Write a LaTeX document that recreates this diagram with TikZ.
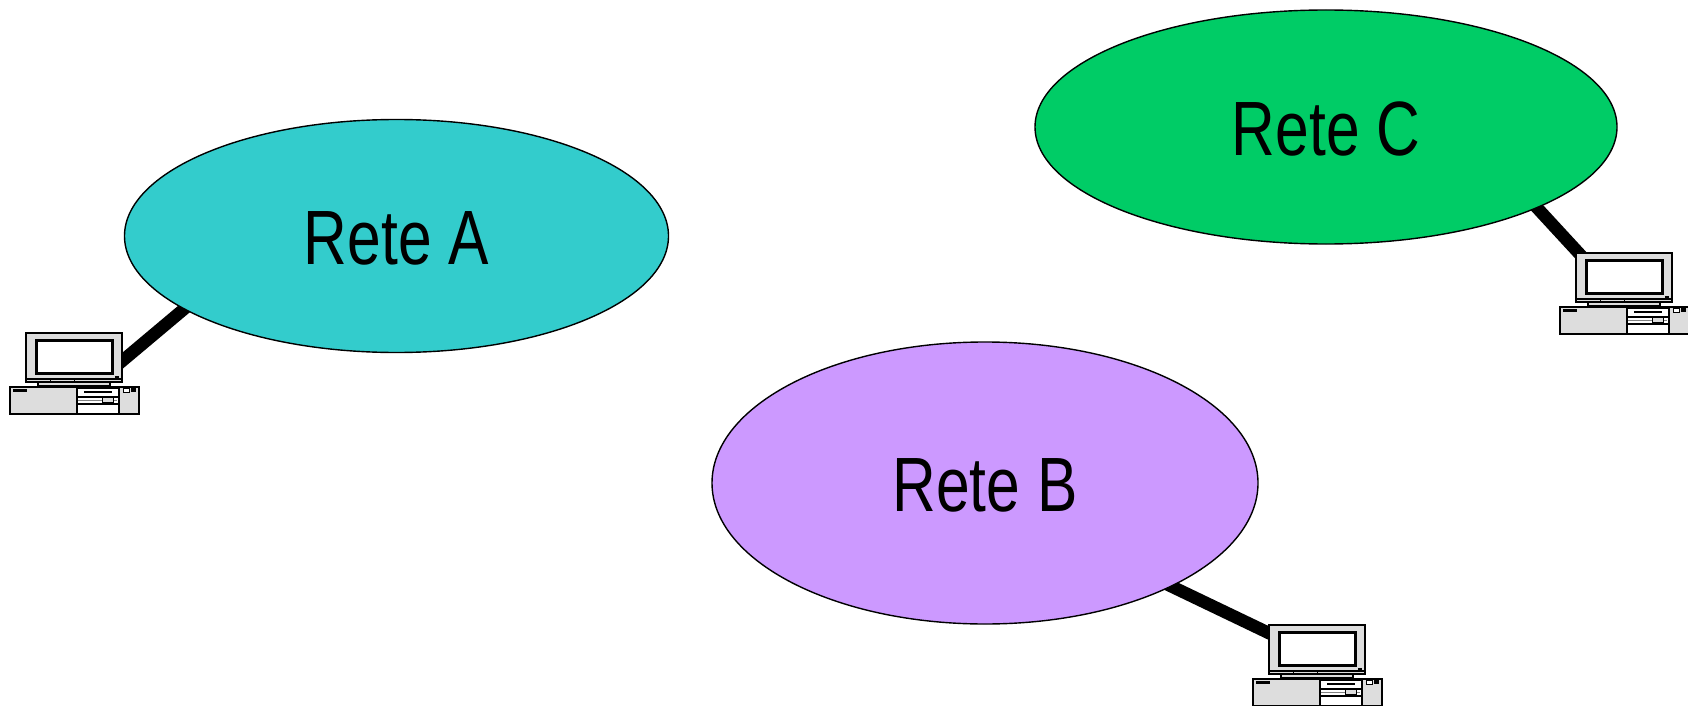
\documentclass[tikz,border=0pt]{standalone}
\usepackage{fontspec}
\setmainfont{Liberation Sans}[FakeStretch=0.786]
\usetikzlibrary{shapes.geometric,backgrounds}
\definecolor{reteacolor}{HTML}{33CCCC}
\definecolor{retebcolor}{HTML}{CC99FF}
\definecolor{retecolor}{HTML}{00CC66}
\definecolor{pcgray}{HTML}{DDDDDD}
\tikzset{
  rete/.style={draw=black, line width=1.4pt, ellipse, inner sep=0pt, text height=56pt, text depth=0pt, font=\fontsize{77}{84}\selectfont},
  link/.style={line width=12.5pt, black, shorten <=-8pt, shorten >=-6pt},
  pcbox/.style={draw=black, line width=2.5pt, fill=pcgray, rectangle, inner sep=0pt},
  computer/.pic={
    \draw[line width=2pt, fill=pcgray] (29,-4) rectangle (101,0); % stand
    \node[pcbox, minimum width=96pt, minimum height=49pt] (-monitor) at (65,-28.5) {};
    \draw[line width=3pt, fill=white] (27.5,-45.5) rectangle (103.5,-12.5); % screen
    \draw[line width=1.5pt] (16,-7) -- (114,-7); % monitor strip
    \draw[line width=1pt] (41,-7) -- (41,-3) (65,-7) -- (65,-3);
    \fill[black] (106,-10) rectangle (110,-8);
    \node[pcbox, minimum width=129pt, minimum height=27pt] (-case) at (65.5,14.5) {};
    \fill[black] (4,3) rectangle (18,6); % left slot
    \draw[line width=1.5pt, fill=white] (68,2) rectangle (110,28); % drive panel
    \draw[line width=1.5pt] (68,11) -- (110,11) (68,18) -- (110,18);
    \fill[black] (75,5) rectangle (103,7); % drive slot
    \draw[line width=0.8pt, gray] (69,14) -- (108,14);
    \draw[line width=1pt, fill=pcgray] (93,11) rectangle (104,16);
    \draw[line width=1pt, fill=white] (114,2) rectangle (120,6); % buttons
    \fill[black] (122,2) rectangle (127,6);
  }
}
\begin{document}
\begin{tikzpicture}[x=1pt, y=-1pt]
    \useasboundingbox (0,0) rectangle (1688,706);
    \node[rete, fill=reteacolor, minimum width=544pt, minimum height=233pt] (reteA) at (396.5,236) {Rete A};
    \node[rete, fill=retebcolor, minimum width=546pt, minimum height=282pt] (reteB) at (985,483) {Rete B};
    \node[rete, fill=retecolor, minimum width=582pt, minimum height=234pt] (reteC) at (1326,127) {Rete C};
    \pic (pcA) at (9,386) {computer};
    \pic (pcB) at (1252,678) {computer};
    \pic (pcC) at (1559,306) {computer};
    \begin{scope}[on background layer]
      \draw[link] (reteA.199.5) -- (pcA-monitor.-3); % network A
      \draw[link] (reteB.-29.6) -- (pcB-monitor.161); % network B
      \draw[link] (reteC.-21.5) -- (pcC-monitor.151.4); % network C
    \end{scope}
\end{tikzpicture}
\end{document}
